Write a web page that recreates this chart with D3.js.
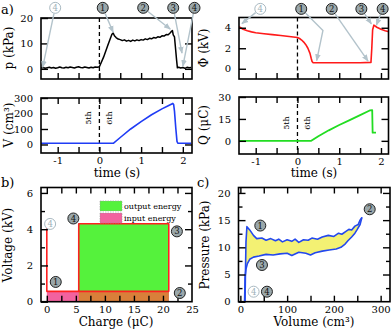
<!DOCTYPE html>
<html>
<head>
<meta charset="utf-8">
<script src="https://cdn.jsdelivr.net/npm/d3@7"></script>
<style>
body { margin: 0; background: #fff; }
svg { display: block; font-family: "DejaVu Serif", serif; }
.axis path { display: none; }
.axis line { stroke: #000; stroke-width: 1.4; }
.axis text { font-size: 10px; fill: #000; font-family: "DejaVu Serif", serif; }
</style>
</head>
<body>
<svg width="392" height="333"></svg>
<script>
'use strict';

// ---- panel a: pressure / volume / potential / charge vs time
const pressTime = [-1.4,-1.35,-1.3,-1.25,-1.2,-1.15,-1.1,-1.05,-1,-0.95,-0.9,-0.85,-0.8,-0.75,-0.7,-0.65,-0.6,-0.55,-0.5,-0.45,-0.4,-0.35,-0.3,-0.25,-0.2,-0.15,-0.1,-0.05,0,
    0.1,0.2,0.3,0.33,0.36,0.4,
    0.45,0.5,0.55,0.6,0.65,0.7,0.75,0.8,0.85,0.9,0.95,1,1.05,1.1,1.15,1.2,1.25,1.3,1.35,1.4,1.45,1.5,1.55,1.6,1.65,1.7,
    1.73,1.75,1.77,1.8,1.82,1.85,1.87,1.9,
    1.95,2,2.05,2.1,2.15,2.2];
const pressure = [0.3,0.5,0.2,0.4,0.6,0.3,0.5,0.2,0.4,0.7,0.4,0.3,0.6,0.4,0.7,0.5,0.3,0.6,0.8,0.5,0.4,0.7,0.5,0.3,0.6,0.4,0.7,0.6,0.8,
    4.6,9.2,13.6,14.1,13.0,12.3,
    11.7,11.5,11.1,11.4,10.9,11.2,10.8,11.3,11.0,11.4,11.1,11.5,11.3,11.8,11.5,12.0,11.8,12.3,12.1,12.6,12.4,13.0,12.9,13.5,13.4,14.2,
    14.8,15.1,13.4,12.6,9.0,3.5,0.4,0.6,
    0.3,0.5,0.2,0.6,0.4,0.5];

const volTime = [-1.4,0.34,0.5,0.75,1,1.25,1.5,1.65,1.76,1.78,1.8,1.83,1.86,1.88,2.2];
const volume  = [8,9,45,100,148,192,230,250,265,258,215,110,20,8,8];

const phiTime = [-1.4,-1.3,-1.2,-1.1,-1,-0.8,-0.6,-0.4,-0.2,0,0.05,0.1,0.15,0.2,0.25,0.3,0.33,0.35,0.37,1,1.5,1.76,1.78,1.8,1.83,1.9,2,2.1,2.2];
const phi     = [4.1,3.85,3.7,3.6,3.52,3.42,3.33,3.24,3.15,3.05,2.95,2.8,2.6,2.35,2.0,1.5,1.0,0.7,0.6,0.58,0.58,0.62,2.0,3.8,4.25,4.05,3.85,3.7,3.6];

const qTime   = [-1.4,0.33,0.5,0.75,1,1.25,1.5,1.73,1.79,1.8,1.88];
const qCharge = [0,0,3.2,7.2,10.8,14.2,17.6,20.8,21.0,5.6,5.6];

// ---- panel b: voltage vs charge
const loopCharge = [0,0,21,21,5.5,5.5];
const loopVolt   = [4.05,0.57,0.57,4.3,4.3,0.57];
const outCharge = [5.5,21], outVolt = [0,4.3];
const inCharge  = [0,21],   inVolt  = [0,0.57];

// ---- panel c: pressure vs volume loop
const upVol  = [10,11,12,14,20,28,35,46,55,65,75,82,90,100,110,117,125,135,145,153,165,175,188,200,210,217,225,232,238,245,252,256,260];
const upPres = [0,6,11,13.8,13.2,12.2,11.6,11.7,11.3,11.6,11.2,11.5,11.0,11.4,11.1,11.5,10.9,11.4,11.3,11.7,11.5,11.9,12.2,12.0,12.6,12.4,12.9,13.3,13.2,13.9,14.2,15.0,15.5];
const loVol  = [260,256,250,245,238,230,224,215,205,190,175,160,150,140,125,110,100,85,70,55,40,28,20,15,12,10,9];
const loPres = [15.5,14.2,13.3,12.6,11.9,11.2,10.6,10.0,9.7,9.5,9.3,9.0,8.6,8.9,9.1,8.5,8.9,8.8,8.6,8.7,8.4,8.2,7.8,7.0,6.0,4.5,0];

const svg = d3.select("svg");
const fmt = d => String(d);
const ARROW = "#b3c3cb";

svg.append("defs").append("marker")
    .attr("id", "ah").attr("viewBox", "0 0 10 10")
    .attr("refX", 9).attr("refY", 5)
    .attr("markerWidth", 5).attr("markerHeight", 5)
    .attr("orient", "auto")
  .append("path").attr("d", "M0,1L10,5L0,9z").attr("fill", ARROW);

let clipId = 0;
const makePanel = o => {
    const x = d3.scaleLinear().domain(o.xd).range([o.l, o.r]);
    const y = d3.scaleLinear().domain(o.yd).range([o.b, o.t]);
    const g = svg.append("g");
    const id = "clip" + (clipId++);
    svg.select("defs").append("clipPath").attr("id", id)
        .append("rect").attr("x", o.l).attr("y", o.t).attr("width", o.r - o.l).attr("height", o.b - o.t);
    const plot = g.append("g").attr("clip-path", `url(#${id})`);
    return { x, y, g, plot, o };
};

const ticks = (p, side, values, size, labels, pad) => {
    const horiz = side === "bottom" || side === "top";
    const scale = horiz ? p.x : p.y;
    const axis = { bottom: d3.axisBottom, top: d3.axisTop, left: d3.axisLeft, right: d3.axisRight }[side](scale)
        .tickValues(values).tickSize(-size).tickPadding(pad || 4)
        .tickFormat(labels ? fmt : "");
    const tr = {
        bottom: `translate(0,${p.o.b})`, top: `translate(0,${p.o.t})`,
        left: `translate(${p.o.l},0)`, right: `translate(${p.o.r},0)`
    }[side];
    p.g.append("g").attr("class", "axis").attr("transform", tr).call(axis);
};

const frame = p => p.g.append("rect")
    .attr("x", p.o.l).attr("y", p.o.t)
    .attr("width", p.o.r - p.o.l).attr("height", p.o.b - p.o.t)
    .attr("fill", "none").attr("stroke", "#000").attr("stroke-width", 1.6);

const drawLine = (p, xs, ys, color, w) => p.plot.append("path")
    .datum(d3.zip(xs, ys))
    .attr("fill", "none").attr("stroke", color).attr("stroke-width", w || 1.6)
    .attr("stroke-linejoin", "round")
    .attr("d", d3.line().x(d => p.x(d[0])).y(d => p.y(d[1])));

const dashed = p => p.plot.append("line")
    .attr("x1", p.x(0)).attr("x2", p.x(0)).attr("y1", p.o.t).attr("y2", p.o.b)
    .attr("stroke", "#000").attr("stroke-width", 1.3).attr("stroke-dasharray", "4,3");

const yTitle = (x, y, text) => svg.append("text")
    .attr("transform", `translate(${x},${y}) rotate(-90)`)
    .attr("text-anchor", "middle").attr("font-size", 12).text(text);

const xTitle = (x, y, text) => svg.append("text")
    .attr("x", x).attr("y", y).attr("text-anchor", "middle").attr("font-size", 12).text(text);

const badge = (cx, cy, n, light) => {
    const g = svg.append("g").attr("transform", `translate(${cx},${cy})`);
    g.append("circle").attr("r", 5.5)
        .attr("fill", light ? "#fff" : "#9aa7aa")
        .attr("stroke", light ? "#a9b9c1" : "#222").attr("stroke-width", 1);
    g.append("text").attr("text-anchor", "middle").attr("dy", "0.36em")
        .attr("font-size", 8.5).attr("fill", light ? "#a0b2ba" : "#111").text(n);
};

// marks: [label, light, [x,y], [[x,y], ...] arrow path] all in data units
const annotate = (p, marks) => {
    marks.forEach(([n, light, at, path]) => {
        const c = [p.x(at[0]), p.y(at[1])];
        if (path && path.length) {
            const pts = path.map(d => [p.x(d[0]), p.y(d[1])]);
            const dx = pts[0][0] - c[0], dy = pts[0][1] - c[1], len = Math.hypot(dx, dy);
            const start = [c[0] + dx / len * 6, c[1] + dy / len * 6];
            svg.append("path")
                .attr("d", d3.line()([start].concat(pts)))
                .attr("fill", "none").attr("stroke", ARROW).attr("stroke-width", 1.4)
                .attr("marker-end", "url(#ah)");
        }
        badge(c[0], c[1], n, light);
    });
};

const halfSteps = [-1, -0.5, 0, 0.5, 1, 1.5, 2];

// ---------- a) pressure
const pA = makePanel({ l: 41, r: 192, t: 18, b: 79, xd: [-1.4, 2.22], yd: [-4, 20] });
dashed(pA);
drawLine(pA, pressTime, pressure, "#000", 1.5);
ticks(pA, "bottom", halfSteps, 6, false);
ticks(pA, "left", [0, 10, 20], 7, true, 8);
ticks(pA, "right", [0, 10], 7, false);
frame(pA);
yTitle(13, 48, "p (kPa)");

// ---------- a) volume
const vA = makePanel({ l: 41, r: 192, t: 98, b: 153, xd: [-1.4, 2.22], yd: [-55, 300] });
dashed(vA);
drawLine(vA, volTime, volume, "#1f3cf5", 1.6);
ticks(vA, "bottom", halfSteps, 6, false);
ticks(vA, "bottom", [-1, 0, 1, 2], 0.01, true, 4);
ticks(vA, "top", halfSteps, 6, false);
ticks(vA, "left", [0, 100, 200, 300], 7, true, 8);
ticks(vA, "right", [0, 100, 200], 7, false);
frame(vA);
yTitle(13, 125, "V (cm³)");
xTitle(117, 177, "time (s)");

// ---------- a) potential
const phA = makePanel({ l: 239, r: 388.5, t: 17.5, b: 79, xd: [-1.4, 2.18], yd: [-1, 5] });
dashed(phA);
drawLine(phA, phiTime, phi, "#ff1a1a", 1.6);
ticks(phA, "bottom", halfSteps, 6, false);
ticks(phA, "left", [0, 2, 4], 7, true, 8);
ticks(phA, "right", [0, 2, 4], 7, false);
frame(phA);
yTitle(208, 48, "Φ (kV)");

// ---------- a) charge
const qA = makePanel({ l: 239, r: 388.5, t: 97, b: 154, xd: [-1.4, 2.18], yd: [-9, 30] });
dashed(qA);
drawLine(qA, qTime, qCharge, "#22dd22", 1.8);
ticks(qA, "bottom", halfSteps, 6, false);
ticks(qA, "bottom", [-1, 0, 1, 2], 0.01, true, 4);
ticks(qA, "top", halfSteps, 6, false);
ticks(qA, "left", [0, 15, 30], 7, true, 8);
ticks(qA, "right", [0, 15], 7, false);
frame(qA);
yTitle(208, 125, "Q (μC)");
xTitle(314, 177, "time (s)");

// 5th / 6th labels
[[vA, 118], [qA, 123]].forEach(([p, yc]) => {
    [["5th", -11], ["6th", 10]].forEach(([t, dx]) => {
        svg.append("text")
            .attr("transform", `translate(${p.x(0) + dx + 3},${yc}) rotate(-90)`)
            .attr("text-anchor", "middle").attr("font-size", 8).text(t);
    });
});

annotate(pA, [
    ["4", true,  [-1.06, 24], [[-1.36, 0.6]]],
    ["1", false, [0.08, 24],  [[0.33, 14.4]]],
    ["2", false, [1.05, 24],  [[1.7, 15.6]]],
    ["3", false, [1.77, 24],  [[1.98, 6.2]]],
    ["4", false, [2.28, 24],  [[2.0, 1.0]]]
]);
annotate(phA, [
    ["4", true,  [-0.89, 5.84], [[-1.33, 4.4]]],
    ["1", false, [0.09, 5.84],  [[0.61, 3.74], [0.46, 0.8]]],
    ["2", false, [0.82, 5.84],  [[1.69, 0.75]]],
    ["3", false, [1.53, 5.84],  [[1.77, 4.38]]],
    ["4", false, [2.04, 5.84],  [[1.89, 4.25]]]
]);

svg.append("text").attr("x", 1).attr("y", 14).attr("font-size", 13).text("a)");

// ---------- b) voltage vs charge
const pB = makePanel({ l: 41, r: 192, t: 187.5, b: 301.7, xd: [-1, 25], yd: [0, 6.3] });
const rectB = (q, v, fill) => pB.plot.append("rect")
    .attr("x", pB.x(q[0])).attr("width", pB.x(q[1]) - pB.x(q[0]))
    .attr("y", pB.y(v[1])).attr("height", pB.y(v[0]) - pB.y(v[1]))
    .attr("fill", fill);
rectB(outCharge, outVolt, "#55f23c");
rectB(inCharge, inVolt, "#f2629f");
rectB([Math.max(outCharge[0], inCharge[0]), Math.min(outCharge[1], inCharge[1])],
      [Math.max(outVolt[0], inVolt[0]), Math.min(outVolt[1], inVolt[1])], "#d97f3a");
drawLine(pB, loopCharge, loopVolt, "#ff2020", 1.6);
ticks(pB, "bottom", [0, 2.5, 5, 7.5, 10, 12.5, 15, 17.5, 20, 22.5], 6, false);
ticks(pB, "bottom", [0, 5, 10, 15, 20, 25], 0.01, true, 4);
ticks(pB, "top", [0, 2.5, 5, 7.5, 10, 12.5, 15, 17.5, 20, 22.5], 6, false);
ticks(pB, "left", [1, 3, 5], 4, false);
ticks(pB, "left", [0, 2, 4, 6], 7, true, 8);
ticks(pB, "right", [1, 3, 5], 4, false);
ticks(pB, "right", [2, 4, 6], 7, false);
frame(pB);
yTitle(12, 245, "Voltage (kV)");
xTitle(116, 326, "Charge (μC)");

// legend
const legB = [["output energy", "#55f23c"], ["input energy", "#f2629f"]];
legB.forEach(([t, c], i) => {
    const y0 = 201 + i * 12;
    svg.append("rect").attr("x", 100).attr("y", y0).attr("width", 22).attr("height", 10)
        .attr("fill", c).attr("stroke", "#999").attr("stroke-width", 0.6).attr("stroke-dasharray", "1.5,1");
    svg.append("text").attr("x", 124).attr("y", y0 + 8).attr("font-size", 8).text(t);
});

annotate(pB, [
    ["4", true,  [0.57, 4.29]],
    ["4", false, [4.57, 4.59]],
    ["3", false, [22.4, 3.88]],
    ["1", false, [1.54, 1.09]],
    ["2", false, [22.9, 0.48]]
]);
svg.append("text").attr("x", 1).attr("y", 187).attr("font-size", 13).text("b)");

// ---------- c) pressure vs volume
const pC = makePanel({ l: 238.5, r: 390, t: 187.5, b: 301.7, xd: [-4, 320], yd: [0, 21] });
const loop = d3.zip(upVol, upPres).concat(d3.zip(loVol, loPres));
pC.plot.append("path").datum(loop)
    .attr("fill", "#f3f173").attr("stroke", "none")
    .attr("d", d3.line().x(d => pC.x(d[0])).y(d => pC.y(d[1])));
drawLine(pC, upVol, upPres, "#2348ee", 1.6);
drawLine(pC, loVol, loPres, "#2348ee", 1.6);
ticks(pC, "bottom", [0, 50, 100, 150, 200, 250, 300], 6, false);
ticks(pC, "bottom", [0, 100, 200, 300], 0.01, true, 4);
ticks(pC, "top", [0, 50, 100, 150, 200, 250, 300], 6, false);
ticks(pC, "left", [2.5, 7.5, 12.5, 17.5], 4, false);
ticks(pC, "left", [0, 5, 10, 15, 20], 7, true, 8);
ticks(pC, "right", [2.5, 7.5, 12.5, 17.5], 4, false);
ticks(pC, "right", [5, 10, 15, 20], 7, false);
frame(pC);
yTitle(209, 245, "Pressure (kPa)");
xTitle(314, 326, "Volume (cm³)");

annotate(pC, [
    ["1", false, [42.6, 14.0]],
    ["2", false, [276.6, 17.0]],
    ["3", false, [46.2, 6.75]],
    ["4", true,  [28.3, 1.84]],
    ["4", false, [56.8, 1.84]]
]);
svg.append("text").attr("x", 197).attr("y", 187).attr("font-size", 13).text("c)");
</script>
</body>
</html>
